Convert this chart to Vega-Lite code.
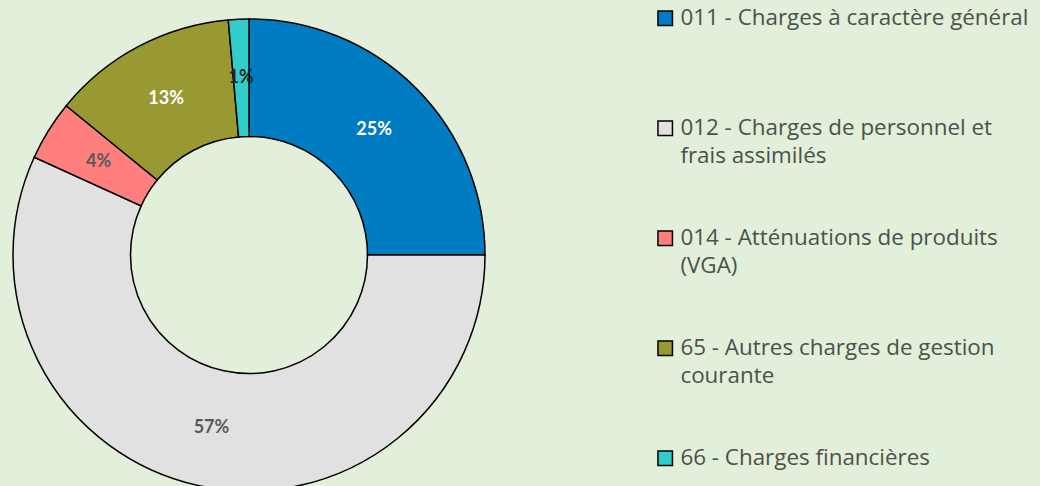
{
  "$schema": "https://vega.github.io/schema/vega-lite/v6.json",
  "width": 498,
  "height": 510,
  "autosize": {"type": "none"},
  "padding": {"left": 0, "top": 0, "right": 542, "bottom": -24},
  "background": "#E2EFDA",
  "config": {
    "view": {"stroke": null},
    "style": {"guide-label": {"lineHeight": 28}}
  },
  "data": {
    "values": [
      {"category": "011 - Charges à caractère général", "share": 0.25},
      {"category": "012 - Charges de personnel et frais assimilés", "share": 0.568},
      {"category": "014 - Atténuations de produits (VGA)", "share": 0.041},
      {"category": "65 - Autres charges de gestion courante", "share": 0.127},
      {"category": "66 - Charges financières", "share": 0.014}
    ]
  },
  "encoding": {
    "theta": {"field": "share", "type": "quantitative", "stack": true},
    "order": {"field": "category", "type": "nominal", "sort": "ascending"}
  },
  "layer": [
    {
      "mark": {"type": "arc", "outerRadius": 236, "innerRadius": 118.5, "stroke": "#000000", "strokeWidth": 1.5},
      "encoding": {
        "color": {
          "field": "category",
          "type": "nominal",
          "scale": {
            "domain": ["011 - Charges à caractère général", "012 - Charges de personnel et frais assimilés", "014 - Atténuations de produits (VGA)", "65 - Autres charges de gestion courante", "66 - Charges financières"],
            "range": ["#007CC3", "#E1E1E1", "#FF7F7F", "#999933", "#33CCCC"]
          },
          "legend": {
            "orient": "none",
            "legendX": 654,
            "legendY": 7,
            "title": null,
            "symbolType": "square",
            "symbolSize": 210,
            "symbolStrokeColor": "#000000",
            "symbolStrokeWidth": 1.5,
            "symbolOpacity": 1,
            "labelFont": "Open Sans",
            "labelFontSize": 22.4,
            "labelColor": "#4A524A",
            "labelLimit": 500,
            "labelOffset": 4,
            "rowPadding": 59,
            "labelExpr": "datum.label == '012 - Charges de personnel et frais assimilés' ? ['012 - Charges de personnel et', 'frais assimilés'] : datum.label == '014 - Atténuations de produits (VGA)' ? ['014 - Atténuations de produits', '(VGA)'] : datum.label == '65 - Autres charges de gestion courante' ? ['65 - Autres charges de gestion', 'courante'] : [datum.label, '']"
          }
        }
      }
    },
    {
      "mark": {"type": "text", "radius": 177, "font": "Lato", "fontWeight": "bold", "fontSize": 18},
      "encoding": {
        "text": {"field": "share", "type": "quantitative", "format": ".0%"},
        "color": {
          "condition": [
            {"test": "datum.category == '011 - Charges à caractère général' || datum.category == '65 - Autres charges de gestion courante'", "value": "#FFFFFF"},
            {"test": "datum.category == '66 - Charges financières'", "value": "#262626"}
          ],
          "value": "#595959"
        }
      }
    }
  ]
}
